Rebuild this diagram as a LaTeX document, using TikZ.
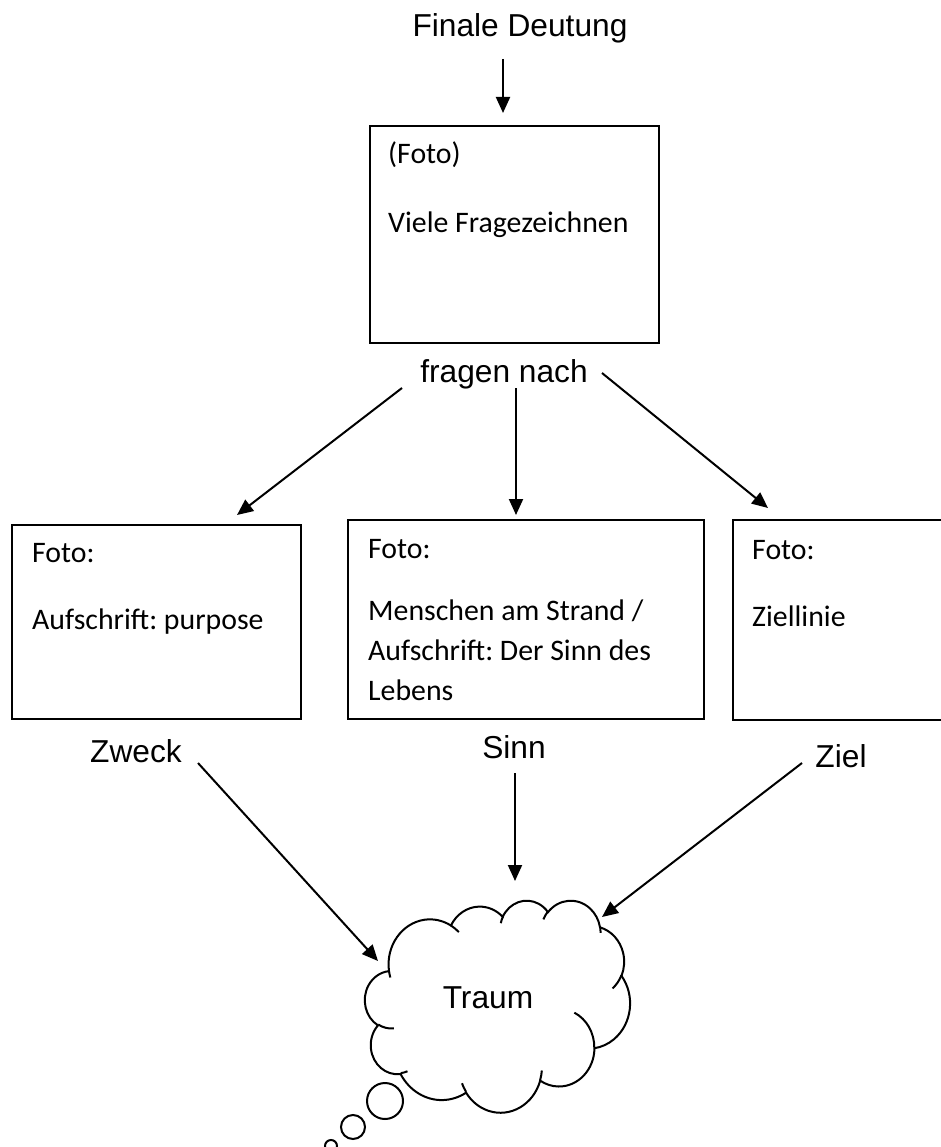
\documentclass[tikz,border=0pt]{standalone}
\usepackage{fontspec}
\setmainfont{Liberation Sans}
\newfontfamily\calfont{Carlito}
\usetikzlibrary{arrows.meta}
\frenchspacing
\begin{document}
\begin{tikzpicture}[x=1pt,y=-1pt,
  arialtxt/.style={font=\fontsize{31.7}{38}\selectfont, inner sep=0pt, anchor=base},
  caltxt/.style={font=\calfont\fontsize{29.8}{40}\selectfont, inner sep=0pt, anchor=base west},
  boxnode/.style={draw, line width=1.8pt, inner sep=0pt, anchor=north west},
  arr/.style={line width=2pt, -{Triangle[length=16pt,width=14pt]}},
  bubble/.style={draw, line width=2pt, circle, inner sep=0pt},
  declare function={vis(\a,\b,\t)=\t+atan2(sin(atan2(\a*sin(\t),\b*cos(\t))-\t),cos(atan2(\a*sin(\t),\b*cos(\t))-\t));}
]
\useasboundingbox (0,0) rectangle (941,1147);
\clip (0,0) rectangle (941,1147);
\fill[white] (0,0) rectangle (941,1147);

% title and top box
\node[arialtxt] (title) at (520,37) {Finale Deutung};
\node[boxnode, minimum width=289pt, minimum height=217pt] (topbox) at (369,125) {};
\node[caltxt] (topfoto) at (388,164) {(Foto)};
\node[caltxt] (topfrag) at (388,233) {Viele Fragezeichnen};

\node[arialtxt] (fn) at (504,382) {fragen nach};

% three boxes
\node[boxnode, minimum width=289pt, minimum height=194pt] (lbox) at (11,524) {};
\node[caltxt] (lfoto) at (32,562) {Foto:};
\node[caltxt] (lauf) at (32,629) {Aufschrift: purpose};

\node[boxnode, minimum width=356pt, minimum height=199pt] (mbox) at (347,519) {};
\node[caltxt] (mfoto) at (368,558) {Foto:};
\node[caltxt] (mt1) at (368,620) {Menschen am Strand /};
\node[caltxt] (mt2) at (368,660) {Aufschrift: Der Sinn des};
\node[caltxt] (mt3) at (368,700) {Lebens};

\node[boxnode, minimum width=240pt, minimum height=200pt] (rbox) at (732,519) {};
\node[caltxt] (rfoto) at (752,559) {Foto:};
\node[caltxt] (rziel) at (752,626) {Ziellinie};

% labels
\node[arialtxt] (zweck) at (136,762) {Zweck};
\node[arialtxt] (sinn) at (514,758) {Sinn};
\node[arialtxt] (ziel) at (841,767) {Ziel};

% cloud
\begin{scope}[xshift=365pt, yshift=-900pt, x=0.6134pt, y=-0.4907pt, line width=2pt]
\draw[fill=white] (39.00,143.70)
  arc[x radius=67.53, y radius=91.90, start angle={vis(67.53,91.90,-190.4875)}, end angle={vis(67.53,91.90,-190.4875+123.7805)}]
  arc[x radius=53.33, y radius=72.67, start angle={vis(53.33,72.67,-144.1024)}, end angle={vis(53.33,72.67,-144.1024+89.9452)}]
  arc[x radius=43.65, y radius=59.45, start angle={vis(43.65,59.45,-145.8079)}, end angle={vis(43.65,59.45,-145.8079+99.7230)}]
  arc[x radius=48.57, y radius=65.95, start angle={vis(48.57,65.95,-130.9861)}, end angle={vis(48.57,65.95,-130.9861+117.2417)}]
  arc[x radius=53.33, y radius=72.73, start angle={vis(53.33,72.73,-78.7089)}, end angle={vis(53.33,72.73,-78.7089+109.0269)}]
  arc[x radius=67.75, y radius=92.20, start angle={vis(67.75,92.20,-46.2673)}, end angle={vis(67.75,92.20,-46.2673+130.2690)}]
  arc[x radius=57.85, y radius=78.67, start angle={vis(57.85,78.67,0.6250)}, end angle={vis(57.85,78.67,0.6250+114.0333)}]
  arc[x radius=67.52, y radius=92.15, start angle={vis(67.52,92.15,22.4516)}, end angle={vis(67.52,92.15,22.4516+115.1726)}]
  arc[x radius=77.20, y radius=105.43, start angle={vis(77.20,105.43,66.2426)}, end angle={vis(77.20,105.43,66.2426+75.7110)}]
  arc[x radius=43.60, y radius=59.18, start angle={vis(43.60,59.18,-274.9421)}, end angle={vis(43.60,59.18,-274.9421+146.7356)}]
  arc[x radius=43.45, y radius=59.45, start angle={vis(43.45,59.45,-246.8285)}, end angle={vis(43.45,59.45,-246.8285+152.5189)}]
  -- cycle;
\draw (46.93,261.77) arc[x radius=43.45, y radius=59.45, start angle={vis(43.45,59.45,86.7420)}, end angle={vis(43.45,59.45,86.7420+26.4295)}];
\draw (69.28,348.99) arc[x radius=43.60, y radius=59.18, start angle={vis(43.60,59.18,73.6105)}, end angle={vis(43.60,59.18,73.6105+11.4475)}];
\draw (164.78,390.90) arc[x radius=67.52, y radius=92.15, start angle={vis(67.52,92.15,137.6242)}, end angle={vis(67.52,92.15,137.6242+14.0811)}];
\draw (288.27,347.51) arc[x radius=67.52, y radius=92.15, start angle={vis(67.52,92.15,6.4533)}, end angle={vis(67.52,92.15,6.4533+15.9984)}];
\draw (341.29,229.54) arc[x radius=57.85, y radius=78.67, start angle={vis(57.85,78.67,-70.2924)}, end angle={vis(57.85,78.67,-70.2924+70.9174)}];
\draw (417.98,153.54) arc[x radius=53.33, y radius=72.73, start angle={vis(53.33,72.73,30.3180)}, end angle={vis(53.33,72.73,30.3180+27.7515)}];
\draw (383.24,54.26) arc[x radius=48.57, y radius=65.95, start angle={vis(48.57,65.95,-13.7443)}, end angle={vis(48.57,65.95,-13.7443+14.8589)}];
\draw (290.78,39.52) arc[x radius=48.57, y radius=65.95, start angle={vis(48.57,65.95,-149.1815)}, end angle={vis(48.57,65.95,-149.1815+18.1954)}];
\draw (221.41,47.20) arc[x radius=43.65, y radius=59.45, start angle={vis(43.65,59.45,-163.4943)}, end angle={vis(43.65,59.45,-163.4943+17.6864)}];
\draw (140.00,51.92) arc[x radius=67.53, y radius=91.90, start angle={vis(67.53,91.90,-66.7070)}, end angle={vis(67.53,91.90,-66.7070+12.3194)}];
\draw (41.27,157.89) arc[x radius=67.53, y radius=91.90, start angle={vis(67.53,91.90,157.6544)}, end angle={vis(67.53,91.90,157.6544+11.8582)}];
\end{scope}
\node[arialtxt] (traum) at (488,1008) {Traum};

% thought bubbles
\node[bubble, minimum size=36pt] (b1) at (385,1101) {};
\node[bubble, minimum size=24pt] (b2) at (353,1127) {};
\node[bubble, minimum size=12pt] (b3) at (331,1146) {};

% connector end points
\coordinate (titleA) at (503,59);
\coordinate (topboxA) at (503,113);
\coordinate (fnL) at (402,388);
\coordinate (lboxA) at (237,515);
\coordinate (fnM) at (516,388);
\coordinate (mboxA) at (516,515);
\coordinate (fnR) at (602,373);
\coordinate (rboxA) at (768,508);
\coordinate (zweckA) at (198,763);
\coordinate (cloudL) at (378,961);
\coordinate (sinnA) at (515,773);
\coordinate (cloudM) at (515,881);
\coordinate (zielA) at (802,763);
\coordinate (cloudR) at (602,917);

\draw[arr] (titleA) -- (topboxA);
\draw[arr] (fnL) -- (lboxA);
\draw[arr] (fnM) -- (mboxA);
\draw[arr] (fnR) -- (rboxA);
\draw[arr] (zweckA) -- (cloudL);
\draw[arr] (sinnA) -- (cloudM);
\draw[arr] (zielA) -- (cloudR);
\end{tikzpicture}
\end{document}
